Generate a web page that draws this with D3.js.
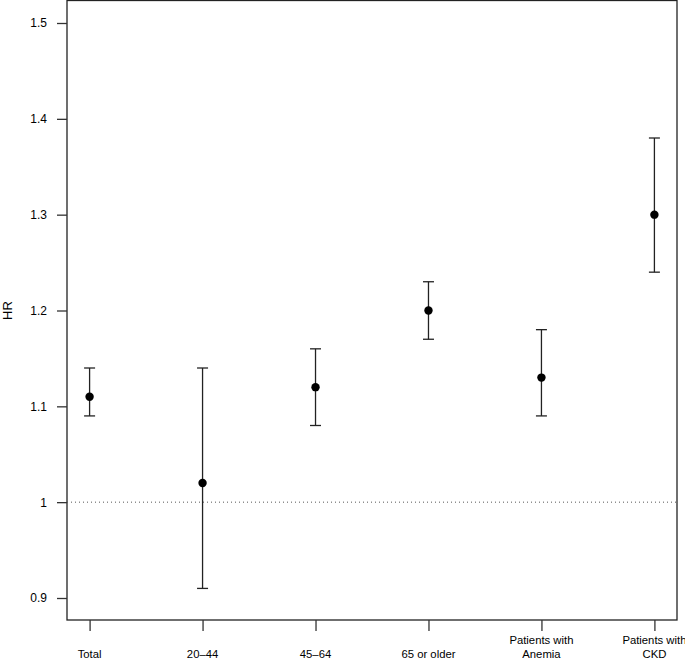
<!DOCTYPE html>
<html><head><meta charset="utf-8">
<script src="https://cdn.jsdelivr.net/npm/d3@7"></script>
<style>body{margin:0;background:#fff}svg{display:block}text{font-family:"Liberation Sans",Arial,Helvetica,sans-serif;fill:#000}</style>
</head><body><svg id="c" width="685" height="659"></svg>
<script>
const categories = [["Total"],["20\u201344"],["45\u201364"],["65 or older"],["Patients with","Anemia"],["Patients with","CKD"]];
const hr = [1.11, 1.02, 1.12, 1.20, 1.13, 1.30];
const lower = [1.09, 0.91, 1.08, 1.17, 1.09, 1.24];
const upper = [1.14, 1.14, 1.16, 1.23, 1.18, 1.38];
const yTicks = [0.9, 1.0, 1.1, 1.2, 1.3, 1.4, 1.5];
const yTickLabels = ["0.9","1","1.1","1.2","1.3","1.4","1.5"];

const svg = d3.select("#c");
const L=67, R=677, T=0.5, B=620;
const x = d3.scaleLinear().domain([0.8, 6.2]).range([L, R]);
const y = d3.scaleLinear().domain([0.9, 1.5]).range([598, 23]);

// box
svg.append("rect").attr("x",L).attr("y",T).attr("width",R-L).attr("height",B-T)
  .attr("fill","none").attr("stroke","#222").attr("stroke-width",1.3);

// y axis
const ya = d3.axisLeft(y).tickValues(yTicks).tickFormat((d,i)=>yTickLabels[i]).tickSize(10).tickPadding(10);
const gy = svg.append("g").attr("transform",`translate(${L},0)`).call(ya);
gy.select(".domain").remove();
gy.selectAll(".tick line").attr("stroke","#333").attr("stroke-width",1.3);
gy.selectAll(".tick text").attr("font-size",12).attr("font-family","Liberation Sans, Arial, sans-serif").attr("fill","#000");

// x axis
const xa = d3.axisBottom(x).tickValues(d3.range(1,7)).tickFormat("").tickSize(11);
const gx = svg.append("g").attr("transform",`translate(0,${B})`).call(xa);
gx.select(".domain").remove();
gx.selectAll(".tick line").attr("stroke","#333").attr("stroke-width",1.3);
categories.forEach((lines,i)=>{
  const t = svg.append("text").attr("x",x(i+1)).attr("text-anchor","middle").attr("font-size",11.3);
  const base = 658;
  lines.forEach((s,j)=>{
    t.append("tspan").attr("x",x(i+1)).attr("y", base - (lines.length-1-j)*14).text(s);
  });
});

// y label
svg.append("text").attr("transform",`translate(12,${y(1.2)}) rotate(-90)`).attr("text-anchor","middle")
  .attr("font-size",13).text("HR");

// reference line
svg.append("line").attr("x1",L).attr("x2",R).attr("y1",y(1)).attr("y2",y(1))
  .attr("stroke","#555").attr("stroke-width",1).attr("stroke-dasharray","1,3");

// error bars
const idx = d3.range(hr.length);
const g = svg.append("g").attr("stroke","#222").attr("stroke-width",1.3);
g.selectAll(".v").data(idx).join("line").attr("x1",i=>x(i+1)).attr("x2",i=>x(i+1))
  .attr("y1",i=>y(lower[i])).attr("y2",i=>y(upper[i]));
g.selectAll(".cu").data(idx).join("line").attr("x1",i=>x(i+1)-5.5).attr("x2",i=>x(i+1)+5.5)
  .attr("y1",i=>y(upper[i])).attr("y2",i=>y(upper[i]));
g.selectAll(".cl").data(idx).join("line").attr("x1",i=>x(i+1)-5.5).attr("x2",i=>x(i+1)+5.5)
  .attr("y1",i=>y(lower[i])).attr("y2",i=>y(lower[i]));
svg.selectAll("circle").data(idx).join("circle").attr("cx",i=>x(i+1)).attr("cy",i=>y(hr[i]))
  .attr("r",4.2).attr("fill","#000");
</script></body></html>
